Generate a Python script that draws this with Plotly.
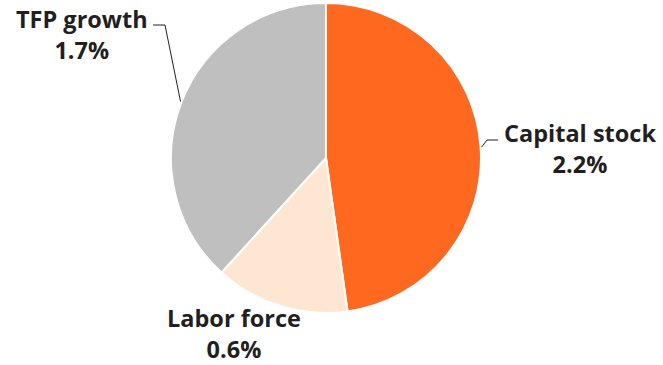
import math
import plotly.graph_objects as go

categories = ["Capital stock", "Labor force", "TFP growth"]
values = [2.15, 0.63, 1.72]
value_labels = ["2.2%", "0.6%", "1.7%"]
colors = ["#FF681F", "#FDE7D3", "#BFBFBF"]

W, H = 663, 365
cx, cy, r = 326, 158, 155

fig = go.Figure(go.Pie(
    labels=categories, values=values, sort=False, direction="clockwise",
    rotation=0, textinfo="none", hoverinfo="label+value",
    marker=dict(colors=colors, line=dict(color="white", width=2)),
    domain=dict(x=[(cx - r) / W, (cx + r) / W], y=[1 - (cy + r) / H, 1 - (cy - r) / H]),
    showlegend=False,
))

def px(x, y):
    return x / W, 1 - y / H

total = sum(values)
cum = 0
mids = []
for v in values:
    mids.append((cum + v / 2) / total * 360)
    cum += v

font = dict(family="Open Sans, sans-serif", size=23.5, color="#231F20", weight="bold")

label_pos = {
    "Capital stock": (580, 148),
    "Labor force": (234, 333),
    "TFP growth": (82, 34),
}
for cat, lab in zip(categories, value_labels):
    x, y = label_pos[cat]
    ax, ay = px(x, y)
    fig.add_annotation(x=ax, y=ay, xref="paper", yref="paper", showarrow=False,
                       text=f"{cat}<br>{lab}", font=font, align="center",
                       xanchor="center", yanchor="middle")

def edge(angle, rr):
    a = math.radians(angle)
    return cx + rr * math.sin(a), cy - rr * math.cos(a)

ex, ey = edge(mids[0], r + 1)
pts = [(ex, ey), (487, 140), (498, 140)]
path = "M " + " L ".join(f"{px(*p)[0]},{px(*p)[1]}" for p in pts)
fig.add_shape(type="path", path=path, xref="paper", yref="paper",
              line=dict(color="#231F20", width=1))
ex, ey = edge(mids[2], r + 1)
pts = [(ex, ey), (165, 25), (153, 25)]
path = "M " + " L ".join(f"{px(*p)[0]},{px(*p)[1]}" for p in pts)
fig.add_shape(type="path", path=path, xref="paper", yref="paper",
              line=dict(color="#231F20", width=1))

fig.update_layout(width=W, height=H, margin=dict(l=0, r=0, t=0, b=0),
                  paper_bgcolor="white", plot_bgcolor="white")
fig.write_html("out.html", config={"displayModeBar": False},
               post_script="document.body.style.margin='0';")
